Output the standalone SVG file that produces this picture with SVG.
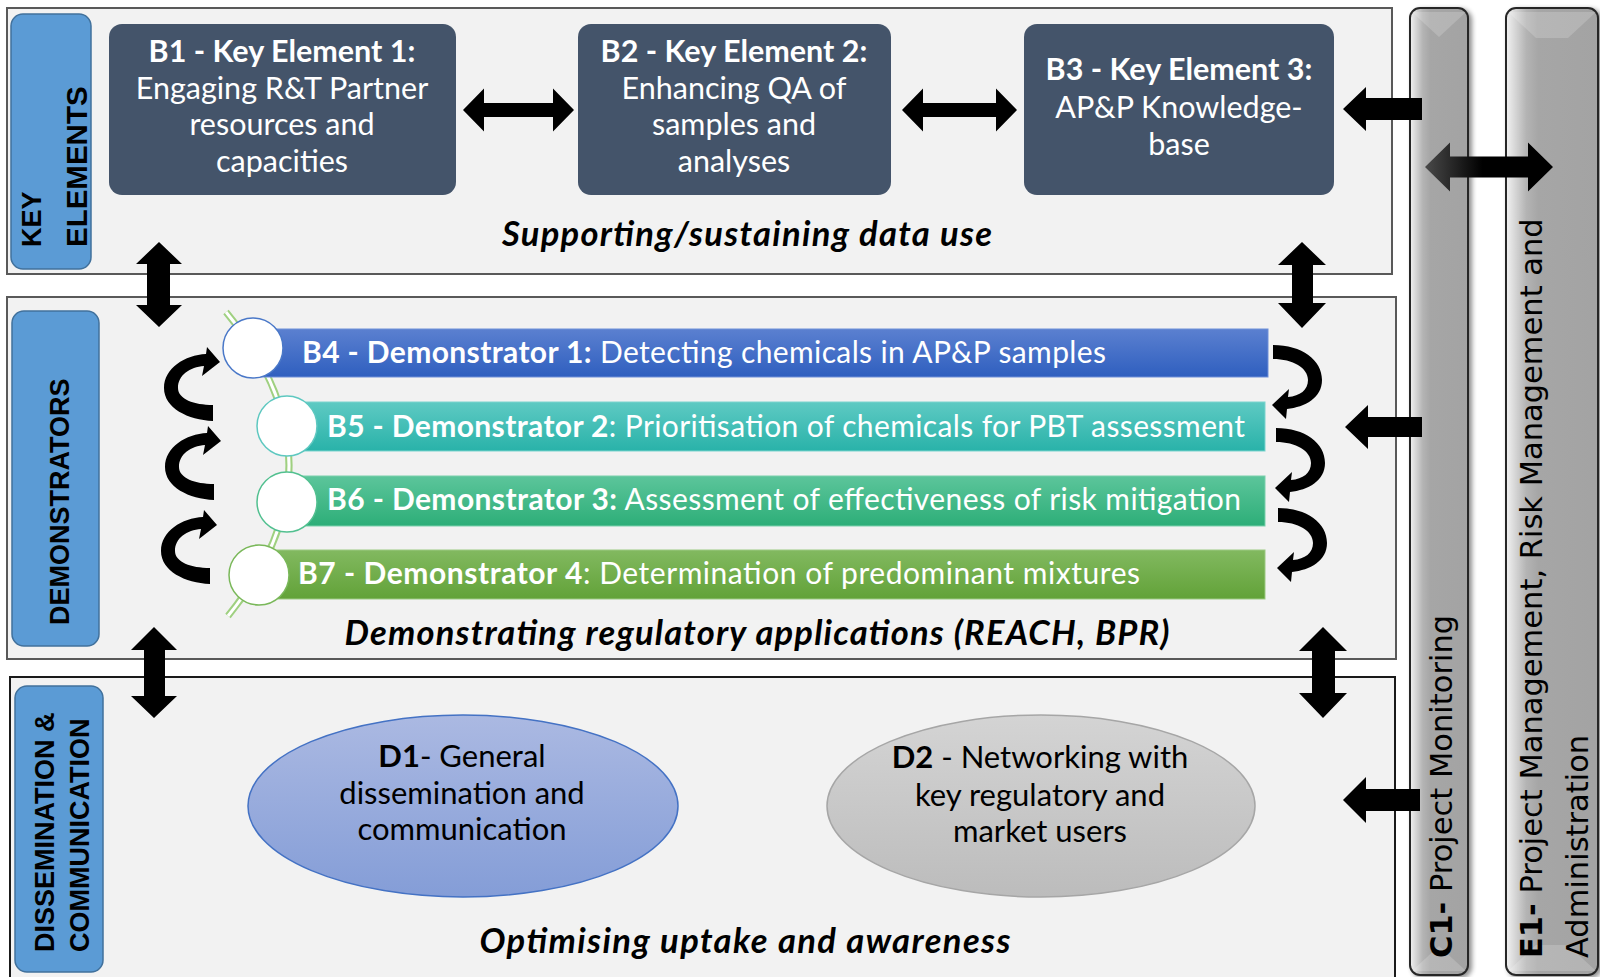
<svg xmlns="http://www.w3.org/2000/svg" width="1600" height="977" viewBox="0 0 1600 977">
<defs>
<style>
.sec{fill:#f2f2f2;stroke:#595959;stroke-width:2}
.lbl{fill:#5b9bd5;stroke:#41719c;stroke-width:1.5}
.lt{font-family:"Liberation Sans",Arial,sans-serif;font-weight:bold;font-size:27px;fill:#000}
.kb{fill:#44546a}
.kt{font-family:Lato,"Liberation Sans",sans-serif;font-size:30.5px;fill:#fff;text-anchor:middle}
.bt{font-family:Lato,"Liberation Sans",sans-serif;font-size:30px;fill:#fff}
.cap{font-family:Lato,"Liberation Sans",sans-serif;font-size:34.5px;font-weight:bold;font-style:italic;fill:#000;text-anchor:middle}
.et{font-family:Lato,"Liberation Sans",sans-serif;font-size:31px;fill:#000;text-anchor:middle}
.vt{font-family:"DejaVu Sans",sans-serif;font-size:30.5px;fill:#000}
.b{font-weight:bold}
.arr{fill:#000}
.circ{fill:#fff;stroke-width:1.5}
.bar{stroke:#262626;stroke-width:2}
</style>
<linearGradient id="gB4" x1="0" y1="0" x2="0" y2="1"><stop offset="0" stop-color="#5b80d0"/><stop offset="1" stop-color="#2f5fbf"/></linearGradient>
<linearGradient id="gB5" x1="0" y1="0" x2="0" y2="1"><stop offset="0" stop-color="#5ecac3"/><stop offset="1" stop-color="#29b2a9"/></linearGradient>
<linearGradient id="gB6" x1="0" y1="0" x2="0" y2="1"><stop offset="0" stop-color="#5cc59b"/><stop offset="1" stop-color="#2dae78"/></linearGradient>
<linearGradient id="gB7" x1="0" y1="0" x2="0" y2="1"><stop offset="0" stop-color="#82b960"/><stop offset="1" stop-color="#62a238"/></linearGradient>
<linearGradient id="gD1" x1="0" y1="0" x2="0" y2="1"><stop offset="0" stop-color="#abb9e2"/><stop offset="1" stop-color="#849dd7"/></linearGradient>
<linearGradient id="gD2" x1="0" y1="0" x2="0" y2="1"><stop offset="0" stop-color="#d4d4d4"/><stop offset="1" stop-color="#bcbcbc"/></linearGradient>
<linearGradient id="gBar" x1="0" y1="0" x2="1" y2="0"><stop offset="0" stop-color="#f2f2f2"/><stop offset="0.22" stop-color="#b4b4b4"/><stop offset="0.35" stop-color="#a6a6a6"/><stop offset="1" stop-color="#a3a3a3"/></linearGradient>
<linearGradient id="gCE" x1="0" y1="0" x2="1" y2="0"><stop offset="0" stop-color="#4a4a4a"/><stop offset="0.45" stop-color="#000"/><stop offset="1" stop-color="#000"/></linearGradient>
<filter id="sh" x="-20%" y="-5%" width="140%" height="110%"><feGaussianBlur in="SourceAlpha" stdDeviation="2.5"/><feOffset dx="3" dy="2" result="b"/><feComponentTransfer><feFuncA type="linear" slope="0.45"/></feComponentTransfer><feMerge><feMergeNode/><feMergeNode in="SourceGraphic"/></feMerge></filter>
<path id="cl" d="M 213 421 C 188 420 164 408 164 388 C 164 368 185 355 206 354 L 207 347 L 220 362 L 202 376 L 204 366 C 190 367 178 375 178 388 C 178 399 194 405 213 405 Z"/>
<path id="cr" d="M 1273 345 C 1302 345 1322 360 1322 380 C 1322 398 1305 407 1287 409 L 1286 419 L 1272 405 L 1289 389 L 1288 397 C 1300 396 1308 390 1308 380 C 1308 368 1293 359 1273 359 Z"/>
</defs>

<!-- sections -->
<g id="section-key">
<rect class="sec" x="7" y="8" width="1385" height="266"/>
<rect class="lbl" x="11" y="14" width="80" height="255" rx="12"/>
<text class="lt" transform="translate(41,247) rotate(-90)">KEY</text>
<text class="lt" style="font-size:29.5px" transform="translate(87,247) rotate(-90)">ELEMENTS</text>
<text class="cap" x="747" y="246" textLength="490">Supporting/sustaining data use</text>
</g>
<g id="section-demo">
<rect class="sec" x="7" y="297" width="1389" height="362"/>
<rect class="lbl" x="12" y="311" width="87" height="335" rx="12"/>
<text class="lt" transform="translate(69,625) rotate(-90)">DEMONSTRATORS</text>
<text class="cap" x="757" y="645" textLength="825">Demonstrating regulatory applications (REACH, BPR)</text>
</g>
<g id="section-diss">
<rect x="10" y="677" width="1385" height="320" fill="#f2f2f2" stroke="#1a1a1a" stroke-width="2"/>
<rect class="lbl" x="15" y="686" width="88" height="286" rx="12"/>
<text class="lt" transform="translate(54,952) rotate(-90)">DISSEMINATION &amp;</text>
<text class="lt" transform="translate(89,952) rotate(-90)">COMMUNICATION</text>
<text class="cap" x="745" y="953" textLength="531">Optimising uptake and awareness</text>
</g>

<!-- side bars -->
<g id="C1">
<rect class="bar" x="1410" y="8" width="58" height="967" rx="10" fill="url(#gBar)" filter="url(#sh)"/>
<polygon points="1412,12 1466,12 1439,37" fill="#fff" opacity="0.18"/>
<polygon points="1412,971 1466,971 1439,946" fill="#fff" opacity="0.18"/>
<text class="vt" transform="translate(1452,958) rotate(-90)"><tspan class="b">C1-</tspan> Project Monitoring</text>
</g>
<g id="E1">
<rect class="bar" x="1506" y="8" width="92" height="967" rx="10" fill="url(#gBar)" filter="url(#sh)"/>
<polygon points="1508,12 1596,12 1568,38 1536,38" fill="#fff" opacity="0.18"/>
<polygon points="1508,971 1596,971 1568,945 1536,945" fill="#fff" opacity="0.18"/>
<text class="vt" transform="translate(1542,958) rotate(-90)"><tspan class="b">E1-</tspan> Project Management,  Risk Management and</text>
<text class="vt" transform="translate(1588,958) rotate(-90)">Administration</text>
</g>

<!-- key elements -->
<g id="B1">
<rect class="kb" x="109" y="24" width="347" height="171" rx="13"/>
<text class="kt" x="282" y="62"><tspan class="b">B1 - Key Element 1:</tspan></text>
<text class="kt" x="282" y="99">Engaging R&amp;T Partner</text>
<text class="kt" x="282" y="135">resources and</text>
<text class="kt" x="282" y="172">capacities</text>
</g>
<g id="B2">
<rect class="kb" x="578" y="24" width="313" height="171" rx="13"/>
<text class="kt" x="734" y="62"><tspan class="b">B2 - Key Element 2:</tspan></text>
<text class="kt" x="734" y="99">Enhancing QA of</text>
<text class="kt" x="734" y="135">samples and</text>
<text class="kt" x="734" y="172">analyses</text>
</g>
<g id="B3">
<rect class="kb" x="1024" y="24" width="310" height="171" rx="13"/>
<text class="kt" x="1179" y="80"><tspan class="b">B3 - Key Element 3:</tspan></text>
<text class="kt" x="1179" y="118">AP&amp;P Knowledge-</text>
<text class="kt" x="1179" y="155">base</text>
</g>

<!-- demonstrators -->
<g id="demo-arc">
<path d="M 226 312 Q 351 464 228 616" fill="none" stroke="#9fd080" stroke-width="7"/>
<path d="M 226 312 Q 351 464 228 616" fill="none" stroke="#ffffff" stroke-width="3"/>
</g>
<g id="B4">
<rect x="253" y="329" width="1015" height="48" fill="url(#gB4)" stroke="#6f8fd8" stroke-width="1"/>
<circle class="circ" cx="253" cy="348" r="30" stroke="#4a78c8"/>
<text class="bt" x="302" y="363" textLength="804"><tspan class="b">B4 - Demonstrator 1:</tspan> Detecting chemicals in AP&amp;P samples</text>
</g>
<g id="B5">
<rect x="287" y="402" width="978" height="49" fill="url(#gB5)" stroke="#7ad4ce" stroke-width="1"/>
<circle class="circ" cx="287" cy="426" r="30" stroke="#5ec8c0"/>
<text class="bt" x="327" y="437" textLength="918"><tspan class="b">B5 - Demonstrator 2</tspan>: Prioritisation of chemicals for PBT assessment</text>
</g>
<g id="B6">
<rect x="287" y="476" width="978" height="50" fill="url(#gB6)" stroke="#7ad0ac" stroke-width="1"/>
<circle class="circ" cx="287" cy="502" r="30" stroke="#52c090"/>
<text class="bt" x="327" y="510" textLength="914"><tspan class="b">B6 - Demonstrator 3:</tspan> Assessment of effectiveness of risk mitigation</text>
</g>
<g id="B7">
<rect x="259" y="550" width="1006" height="49" fill="url(#gB7)" stroke="#9cc982" stroke-width="1"/>
<circle class="circ" cx="259" cy="575" r="30" stroke="#7ab85a"/>
<text class="bt" x="298" y="584" textLength="842"><tspan class="b">B7 - Demonstrator 4</tspan>: Determination of predominant mixtures</text>
</g>

<!-- dissemination -->
<g id="D1">
<ellipse cx="463" cy="806" rx="215" ry="91" fill="url(#gD1)" stroke="#4472c4" stroke-width="1.5"/>
<text class="et" x="462" y="767"><tspan class="b">D1</tspan>- General</text>
<text class="et" x="462" y="804">dissemination and</text>
<text class="et" x="462" y="840">communication</text>
</g>
<g id="D2">
<ellipse cx="1041" cy="806" rx="214" ry="91" fill="url(#gD2)" stroke="#a6a6a6" stroke-width="1.5"/>
<text class="et" x="1040" y="768"><tspan class="b">D2</tspan> - Networking with</text>
<text class="et" x="1040" y="806">key regulatory and</text>
<text class="et" x="1040" y="842">market users</text>
</g>

<!-- connectors -->
<g id="connectors">
<polygon class="arr" fill="#0d0d0d" points="463,110 484,88.5 484,103 553,103 553,88.5 574,110 553,131.5 553,117 484,117 484,131.5"/>
<polygon class="arr" fill="#0d0d0d" points="902,110 923,88.5 923,103 996,103 996,88.5 1017,110 996,131.5 996,117 923,117 923,131.5"/>
<polygon class="arr" points="1343,109 1366,87 1366,98 1422,98 1422,120 1366,120 1366,131"/>
<polygon points="1425,167 1450,142.5 1450,156.5 1528,156.5 1528,142.5 1553,167 1528,191.5 1528,177.5 1450,177.5 1450,191.5" fill="url(#gCE)"/>
<polygon class="arr" points="159,242 182,264 170,264 170,305 182,305 159,327 136,305 147,305 147,264 136,264"/>
<polygon class="arr" points="1302,242 1326,265 1313,265 1313,303 1326,303 1302,328 1278,303 1292,303 1292,265 1278,265"/>
<polygon class="arr" points="154,627 177,650 165,650 165,696 177,696 154,718 131,696 144,696 144,650 131,650"/>
<polygon class="arr" points="1323,627 1347,651 1335,651 1335,693 1347,693 1323,718 1299,693 1312,693 1312,651 1299,651"/>
<polygon class="arr" points="1345,427 1368,405 1368,417 1422,417 1422,437 1368,437 1368,449"/>
<polygon class="arr" points="1343,800 1366,777 1366,789 1420,789 1420,811 1366,811 1366,823"/>
<use href="#cl"/>
<use href="#cl" transform="translate(1,79)"/>
<use href="#cl" transform="translate(-3,163)"/>
<use href="#cr"/>
<use href="#cr" transform="translate(3,83)"/>
<use href="#cr" transform="translate(5,163)"/>
</g>
</svg>
